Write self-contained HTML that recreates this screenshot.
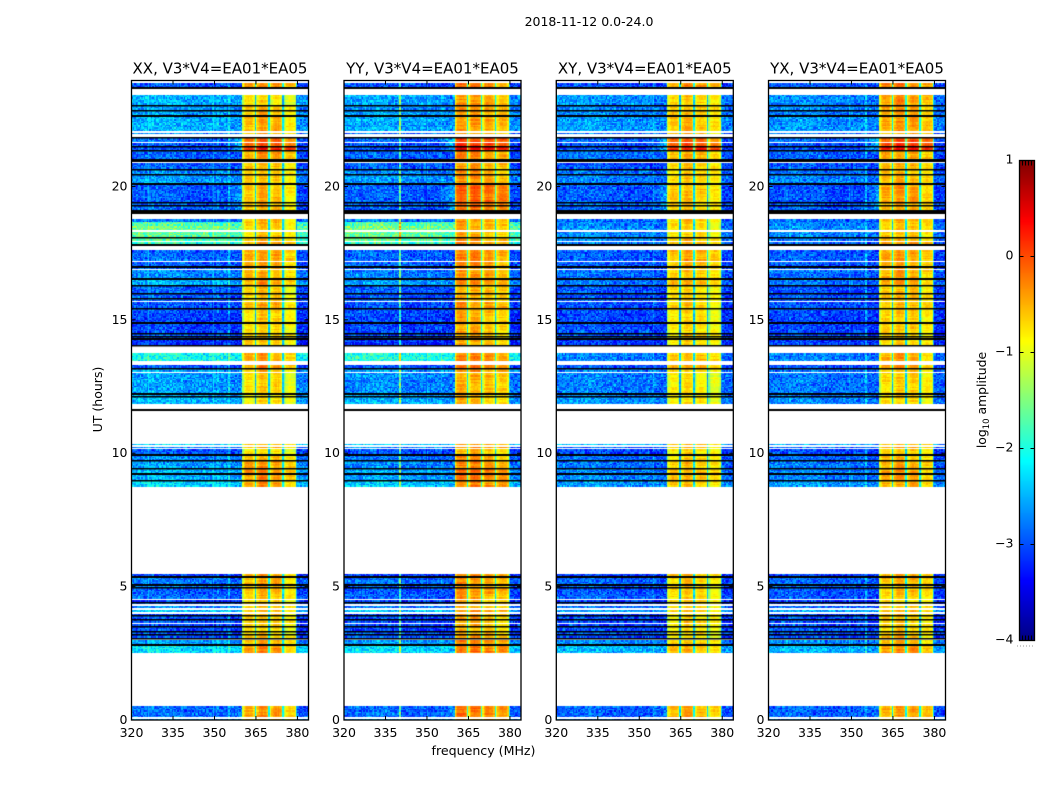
<!DOCTYPE html>
<html>
<head>
<meta charset="utf-8">
<title>2018-11-12 0.0-24.0</title>
<style>
html,body{margin:0;padding:0;background:#fff;}
#figure{position:relative;width:1050px;height:800px;overflow:hidden;background:#fff;font-family:"DejaVu Sans","Liberation Sans",sans-serif;}
canvas{position:absolute;display:block;}
#overlay{position:absolute;left:0;top:0;}
text{font-family:"DejaVu Sans","Liberation Sans",sans-serif;fill:#000;}
</style>
</head>
<body>
<div id="figure">
<canvas id="panel-0"></canvas>
<canvas id="panel-1"></canvas>
<canvas id="panel-2"></canvas>
<canvas id="panel-3"></canvas>
<canvas id="colorbar"></canvas>
<svg id="overlay" width="1050" height="800" xmlns="http://www.w3.org/2000/svg">
<text x="589" y="26" text-anchor="middle" font-size="12.5">2018-11-12 0.0-24.0</text>
<text x="483.5" y="755" text-anchor="middle" font-size="12.6">frequency (MHz)</text>
<text transform="translate(102,399.5) rotate(-90)" text-anchor="middle" font-size="12.5">UT (hours)</text>
<text transform="translate(986,400) rotate(-90)" text-anchor="middle" font-size="12.4">log<tspan font-size="8.5" dy="3">10</tspan><tspan dy="-3"> amplitude</tspan></text>
</svg>
</div>
<script>
// Category labels
const panelNames = ["XX, V3*V4=EA01*EA05","YY, V3*V4=EA01*EA05","XY, V3*V4=EA01*EA05","YX, V3*V4=EA01*EA05"];
const freqTicks = [320,335,350,365,380];
const utTicks = [0,5,10,15,20];
const colorTicks = [1,0,-1,-2,-3,-4];

// Time rows: upper edge in UT hours, and flag state (d = data, w = blank, k = black flagged)
const rowTopUT = [23.93,23.86,23.71,23.67,23.44,23.07,23.03,22.88,22.84,22.66,22.62,22.06,22.02,21.95,21.87,21.80,21.65,21.61,21.50,21.46,21.38,21.33,21.01,20.93,20.86,20.67,20.60,20.45,20.41,20.11,20.07,19.40,19.36,19.29,19.25,19.10,18.98,18.76,18.68,18.53,18.50,18.35,18.31,18.12,18.08,17.97,17.93,17.86,17.78,17.60,17.22,17.15,17.00,16.96,16.89,16.85,16.55,16.51,16.29,16.25,16.02,15.99,15.82,15.78,15.69,15.65,15.46,15.42,14.90,14.86,14.52,14.49,14.41,14.37,14.30,14.26,14.07,14.00,13.74,13.44,13.32,13.21,13.16,13.06,13.02,12.24,12.20,12.16,12.13,11.83,11.71,11.68,11.64,11.60,10.33,10.29,10.25,10.18,10.14,9.97,9.91,9.73,9.69,9.46,9.43,9.24,9.20,8.98,8.94,8.75,8.71,8.68,5.49,5.38,5.34,5.08,5.04,4.97,4.93,4.74,4.55,4.52,4.44,4.40,4.33,4.29,4.18,4.14,4.03,3.99,3.92,3.88,3.80,3.77,3.65,3.62,3.54,3.50,3.35,3.32,3.24,3.20,3.09,3.05,3.02,2.98,2.90,2.83,2.79,2.50,0.51,0.10,0.04];
const rowState = ["w","d","k","w","d","k","d","k","d","k","d","w","d","w","k","d","w","d","k","d","k","d","k","w","d","k","d","k","d","k","d","k","d","k","d","k","w","d","d","d","d","w","d","k","d","w","d","k","w","d","w","d","k","d","w","d","k","d","k","d","k","d","k","d","w","d","k","d","k","d","k","d","k","d","k","d","k","w","d","w","d","k","d","w","d","k","d","k","d","w","d","w","k","w","d","w","d","w","d","k","d","k","d","k","d","k","d","k","d","w","d","w","d","k","d","k","d","k","d","d","w","d","k","d","w","d","w","d","w","d","k","d","k","d","w","d","k","d","k","d","k","d","k","d","w","d","d","k","d","w","d","w","d"];

// log10 amplitude of the 320-360 MHz band, one value per data row
const lowXX = [-3.0,-2.5,-2.6,-2.6,-2.5,-2.8,-2.9,-3.0,-3.0,-2.9,-2.9,-2.7,-2.6,-2.95,-2.9,
-2.9,-2.8,-1.75,-2.5,-1.6,-1.65,-1.7,-1.9,-2.9,-2.9,-2.9,-2.7,-2.5,-2.9,-2.95,
-2.9,-3.0,-3.05,-3.05,-3.0,-2.9,-3.15,-2.05,-3.0,-2.6,-2.6,-2.5,-2.45,-2.4,-2.3,
-2.7,-3.0,-2.7,-2.6,-2.45,-2.5,-2.3,-2.2,-3.1,-2.8,-2.8,-3.0,-2.85,-3.1,-2.9,
-2.7,-2.4,-3.1,-3.0,-3.0,-3.05,-3.0,-2.95,-3.0,-2.8,-2.6,-2.6,-2.25,-2.85,-2.6];
const lowYY = [-3.0,-2.55,-2.65,-2.6,-2.55,-2.8,-2.9,-3.0,-3.0,-2.9,-2.9,-2.7,-2.6,-2.95,-2.9,
-2.9,-2.8,-1.7,-2.5,-1.55,-1.6,-1.65,-1.85,-2.9,-2.9,-2.9,-2.75,-2.6,-2.95,-2.95,
-2.95,-3.0,-3.05,-3.05,-3.0,-2.95,-3.15,-2.0,-3.0,-2.65,-2.7,-2.6,-2.5,-2.4,-2.35,
-2.75,-3.0,-2.8,-2.7,-2.55,-2.6,-2.4,-2.25,-3.1,-2.85,-2.85,-3.0,-2.9,-3.1,-2.95,
-2.75,-2.4,-3.1,-3.0,-3.0,-3.05,-3.0,-2.95,-3.0,-2.85,-2.6,-2.6,-2.3,-2.85,-2.6];
const lowXY = [-3.0,-2.65,-2.7,-2.7,-2.6,-2.85,-2.9,-3.0,-3.0,-2.85,-2.95,-2.8,-2.75,-2.95,-2.9,
-2.9,-2.85,-2.7,-2.8,-2.65,-2.7,-2.7,-2.8,-2.95,-2.95,-2.95,-2.85,-2.8,-2.95,-3.0,
-2.95,-3.0,-3.05,-3.0,-3.0,-2.85,-3.1,-2.75,-3.0,-2.75,-2.75,-2.7,-2.65,-2.5,-2.5,
-2.85,-3.05,-2.85,-2.8,-2.7,-2.7,-2.6,-2.45,-3.1,-2.9,-2.9,-3.0,-2.9,-3.1,-3.0,
-2.85,-2.55,-3.1,-3.0,-3.0,-3.05,-3.0,-3.0,-3.0,-2.85,-2.7,-2.7,-2.45,-2.9,-2.7];
const lowYX = [-3.0,-2.7,-2.7,-2.75,-2.65,-2.85,-2.9,-3.0,-3.0,-2.9,-2.95,-2.85,-2.75,-3.0,-2.95,
-2.95,-2.85,-2.75,-2.8,-2.7,-2.7,-2.75,-2.85,-2.95,-2.95,-2.95,-2.85,-2.8,-3.0,-3.0,
-3.0,-3.0,-3.05,-3.05,-3.0,-2.9,-3.1,-2.75,-3.0,-2.8,-2.8,-2.75,-2.7,-2.55,-2.55,
-2.9,-3.05,-2.9,-2.8,-2.7,-2.75,-2.6,-2.45,-3.1,-2.9,-2.9,-3.0,-2.95,-3.1,-3.0,
-2.85,-2.55,-3.1,-3.0,-3.0,-3.05,-3.0,-3.0,-3.0,-2.9,-2.7,-2.7,-2.5,-2.9,-2.7];

// log10 amplitude of the 360-380 MHz band, one value per data row
const highXX = [-.3,-.7,-.5,-.5,-.45,-.5,-.1,0,.35,-.35,-.5,-.55,-.55,-.5,-.5,
-.5,-.5,-.55,-.7,-.6,-.6,-.5,-.4,-.35,-.4,-.4,-.45,-.35,-.6,-.55,
-.6,-.45,-.6,-.6,-.55,-.55,-.55,-.4,-.3,-.5,-.65,-.7,-.7,-.5,-.5,
-.4,-.7,-.5,-.35,-.25,-.3,-.35,-.5,-.4,-.45,-.5,-.5,-.5,-.6,-.6,
-.55,-.45,-.5,-.55,-.55,-.6,-.65,-.6,-.55,-.5,-.45,-.5,-.3,-.35,-.5];
const highYY = [-.25,-.4,-.4,-.4,-.4,-.4,0,.1,.45,-.3,-.4,-.4,-.35,-.1,-.15,
-.2,-.35,-.45,-.6,-.5,-.5,-.4,-.3,-.3,-.35,-.35,-.4,-.3,-.5,-.5,
-.5,-.35,-.5,-.5,-.5,-.45,-.5,-.3,-.2,-.35,-.5,-.55,-.55,-.4,-.4,
-.3,-.55,-.4,-.3,-.2,-.2,-.3,-.4,-.35,-.35,-.4,-.35,-.45,-.55,-.5,
-.5,-.35,-.45,-.45,-.5,-.5,-.55,-.5,-.45,-.4,-.3,-.4,-.2,-.2,-.4];
const highXY = [-.3,-.6,-.55,-.55,-.5,-.55,-.1,0,.3,-.5,-.55,-.6,-.6,-.55,-.6,
-.6,-.55,-.65,-.75,-.7,-.65,-.55,-.5,-.45,-.5,-.5,-.55,-.45,-.65,-.65,
-.7,-.6,-.7,-.7,-.65,-.65,-.7,-.5,-.45,-.65,-.75,-.75,-.75,-.6,-.6,
-.5,-.7,-.65,-.55,-.45,-.5,-.55,-.6,-.5,-.6,-.65,-.65,-.65,-.7,-.7,
-.7,-.55,-.65,-.7,-.65,-.7,-.75,-.7,-.7,-.6,-.6,-.6,-.5,-.45,-.6];
const highYX = [-.3,-.4,-.45,-.45,-.45,-.5,-.05,.05,.3,-.45,-.55,-.6,-.55,-.45,-.55,
-.55,-.5,-.6,-.7,-.65,-.6,-.5,-.45,-.45,-.5,-.5,-.5,-.45,-.65,-.6,
-.65,-.55,-.65,-.65,-.65,-.65,-.7,-.5,-.4,-.6,-.7,-.7,-.7,-.55,-.55,
-.45,-.7,-.6,-.5,-.45,-.45,-.5,-.6,-.5,-.55,-.6,-.6,-.65,-.7,-.7,
-.65,-.55,-.6,-.65,-.65,-.7,-.7,-.65,-.6,-.6,-.55,-.6,-.4,-.45,-.55];

// Relative gain of each 5 MHz sub-band, per polarisation
const subbandXX = [-.15,0,-.1,-.35];
const subbandYY = [0,0,-.1,-.2];
const subbandXY = [-.15,0,-.1,-.25];
const subbandYX = [-.05,.05,0,-.2];
// Shape across one sub-band (0.5 MHz channels), last channel is the band gap
const subbandShape = [-.5,-.15,0,.05,.1,.05,.05,0,-.2,-1.7];
// Low-band bandpass in 4 MHz steps from 320 to 384 MHz
const lowShape = [0,.05,.05,.05,0,-.05,-.05,-.05,-.05,-.1,-.1,-.05,0,.05,.1,-.15];
// Narrow interference lines
const spikeFreqXX = [355,351];
const spikeGainXX = [.45,.15];
const spikeFreqYY = [340,355,350];
const spikeGainYY = [1.2,.25,.25];
const spikeFreqXY = [355,353,344];
const spikeGainXY = [.35,.15,.15];
const spikeFreqYX = [355,349,340];
const spikeGainYX = [.5,.25,.15];
// Time ranges where the top of the low band brightens
const shoulderFromUT = [21.87,20.07,0.51];
const shoulderToUT = [21.3,19.1,0.0];
const shoulderGain = [.7,.5,.25];
// Estimated grain sample, repeated over the cells as visual texture
const grainA = [.6,-.8,.2,-.3,.9,-.6,.1,.7,-.9,.4,-.2,-.7,.8,.3,-.5,.5,-.1,-.9,.6,.2,-.4,1,-.7,.1,-.3,.7,-.6,.4,-1,.3,.8,-.2,-.5,.5,.9,-.8,.1,-.4,.6,-.6,.2,.4,-.9,.7,-.1,.3,-.5];
const grainB = [.3,-.5,.8,-.2,-.7,.4,.1,-.9,.6,.2,-.4,.9,-.6,-.1,.5,-.8,.3,.7,-.3,-.6,.9,.1,-.5,.4,-.9,.6,-.2,.2,.7,-.7,0];

const lowSets = [lowXX,lowYY,lowXY,lowYX];
const highSets = [highXX,highYY,highXY,highYX];
const subbandSets = [subbandXX,subbandYY,subbandXY,subbandYX];
const spikeFreqSets = [spikeFreqXX,spikeFreqYY,spikeFreqXY,spikeFreqYX];
const spikeGainSets = [spikeGainXX,spikeGainYY,spikeGainXY,spikeGainYX];

const panelLeft = [131.5,344,556.3,768.5];
const panelWidth = 177;
const plotTop = 80.5;
const plotBottom = 720;
const cbarLeft = 1019.5, cbarRight = 1034.5, cbarTop = 160.5, cbarBottom = 640.5;
const freqMin = 320, freqMax = 384, utMin = 0, utMax = 23.97;
const vMin = -4, vMax = 1;
const chanWidth = 0.5, rowStep = 0.05;

function xScale(p,f){return panelLeft[p]+(f-freqMin)/(freqMax-freqMin)*panelWidth;}
function yScale(u){return plotBottom-(u-utMin)/(utMax-utMin)*(plotBottom-plotTop);}
function clip(v){return Math.max(0,Math.min(1,v));}
function jet(v){
  const t=clip((v-vMin)/(vMax-vMin));
  const r=clip(1.5-Math.abs(4*t-3)),g=clip(1.5-Math.abs(4*t-2)),b=clip(1.5-Math.abs(4*t-1));
  return "rgb("+Math.round(r*255)+","+Math.round(g*255)+","+Math.round(b*255)+")";
}
function cellValue(p,f,ut,low,high,c,r){
  const g=grainA[(c*c*7+r*11+c*r*3+p*5)%grainA.length]+.5*grainB[(c*c*3+r*r*5+c*2)%grainB.length];
  if(f>=360.2&&f<380){
    const band=Math.floor((f-360)/5);
    const ch=Math.min(9,Math.floor(((f-360)%5)/chanWidth));
    const rowWave=grainA[(r*3+band*17+p*7)%grainA.length];
    return high+subbandSets[p][band]+subbandShape[ch]+.09*g+.14*rowWave;
  }
  let v=low+lowShape[Math.floor((f-freqMin)/4)];
  if(f>=355&&f<360.5){
    for(let i=0;i<shoulderGain.length;i++){
      if(ut<=shoulderFromUT[i]&&ut>=shoulderToUT[i])v+=shoulderGain[i]*(f-355)/5;
    }
  }
  const sf=spikeFreqSets[p],sg=spikeGainSets[p];
  for(let i=0;i<sf.length;i++){if(Math.abs(f-sf[i])<chanWidth/2)v+=sg[i];}
  return v+.38*g;
}
function drawPanel(p){
  const cv=document.getElementById("panel-"+p);
  const left=Math.round(panelLeft[p]),w=panelWidth,top=Math.round(plotTop),h=Math.round(plotBottom-plotTop);
  cv.width=w;cv.height=h;
  cv.style.left=left+"px";cv.style.top=top+"px";
  const ctx=cv.getContext("2d");
  ctx.fillStyle="#fff";ctx.fillRect(0,0,w,h);
  let dataIndex=0,rowCounter=0;
  const nChan=Math.round((freqMax-freqMin)/chanWidth);
  for(let i=0;i<rowTopUT.length;i++){
    if(rowState[i]!=="d")continue;
    const utTop=rowTopUT[i],utBot=i+1<rowTopUT.length?rowTopUT[i+1]:utMin;
    const low=lowSets[p][dataIndex],high=highSets[p][dataIndex];
    dataIndex++;
    const n=Math.max(1,Math.round((utTop-utBot)/rowStep));
    for(let r=0;r<n;r++){
      const uA=utTop-(utTop-utBot)*r/n,uB=utTop-(utTop-utBot)*(r+1)/n;
      const ya=Math.round(yScale(uA))-top,yb=Math.max(ya+1,Math.round(yScale(uB))-top);
      for(let c=0;c<nChan;c++){
        const f=freqMin+c*chanWidth;
        const xa=Math.round(xScale(p,f))-left,xb=Math.max(xa+1,Math.round(xScale(p,f+chanWidth))-left);
        ctx.fillStyle=jet(cellValue(p,f+chanWidth/2-.001,uA,low,high,c,rowCounter));
        ctx.fillRect(xa,ya,xb-xa,yb-ya);
      }
      rowCounter++;
    }
  }
  // flagged rows are drawn last so they stay crisp over neighbouring data
  for(let i=0;i<rowTopUT.length;i++){
    if(rowState[i]==="d")continue;
    const utTop=rowTopUT[i],utBot=i+1<rowTopUT.length?rowTopUT[i+1]:utMin;
    const y0=Math.round(yScale(utTop))-top,y1=Math.round(yScale(utBot))-top;
    if(rowState[i]==="w"){ctx.fillStyle="#fff";ctx.fillRect(0,y0,w,Math.max(1,y1-y0));}
  }
  for(let i=0;i<rowTopUT.length;i++){
    if(rowState[i]!=="k")continue;
    const utTop=rowTopUT[i],utBot=i+1<rowTopUT.length?rowTopUT[i+1]:utMin;
    const y0=Math.round(yScale(utTop))-top,y1=Math.round(yScale(utBot))-top;
    ctx.fillStyle="#000";
    ctx.fillRect(0,y0,w,Math.max(1.5,y1-y0));
  }
}
function cbarY(v){return cbarTop+(vMax-v)/(vMax-vMin)*(cbarBottom-cbarTop);}
function drawColorbar(){
  const cv=document.getElementById("colorbar");
  const l=Math.round(cbarLeft),t=Math.round(cbarTop),w=Math.round(cbarRight-cbarLeft),h=Math.round(cbarBottom-cbarTop);
  cv.width=w;cv.height=h;cv.style.left=l+"px";cv.style.top=t+"px";
  const ctx=cv.getContext("2d");
  for(let y=0;y<h;y++){
    ctx.fillStyle=jet(vMax-(y+.5)/h*(vMax-vMin));
    ctx.fillRect(0,y,w,1);
  }
}
const svg=document.getElementById("overlay");
const NS="http://www.w3.org/2000/svg";
function addLine(x1,y1,x2,y2,sw){
  const el=document.createElementNS(NS,"line");
  el.setAttribute("x1",x1);el.setAttribute("y1",y1);el.setAttribute("x2",x2);el.setAttribute("y2",y2);
  el.setAttribute("stroke","#000");el.setAttribute("stroke-width",sw||1);
  svg.appendChild(el);
  return el;
}
function addText(x,y,s,anchor,size){
  const el=document.createElementNS(NS,"text");
  el.setAttribute("x",x);el.setAttribute("y",y);el.setAttribute("text-anchor",anchor);el.setAttribute("font-size",size);
  el.textContent=s;
  svg.appendChild(el);
  return el;
}
function drawAxes(p){
  const L=panelLeft[p],R=L+panelWidth;
  const frame=document.createElementNS(NS,"rect");
  frame.setAttribute("x",L);frame.setAttribute("y",plotTop);frame.setAttribute("width",panelWidth);frame.setAttribute("height",plotBottom-plotTop);
  frame.setAttribute("fill","none");frame.setAttribute("stroke","#000");frame.setAttribute("stroke-width","1.3");
  
  
  svg.appendChild(frame);
  freqTicks.forEach(function(f){
    const x=xScale(p,f);
    const a=addLine(x,plotBottom,x,plotBottom-4);
    
    
    const b=addLine(x,plotTop,x,plotTop+4);
    
    
    const t=addText(x,737,String(f),"middle",12.5);
    
    
  });
  utTicks.forEach(function(u){
    const y=yScale(u);
    const a=addLine(L,y,L+4,y);
    
    
    const b=addLine(R,y,R-4,y);
    
    
    const t=addText(L-4,y+4,String(u),"end",12.5);
    
    
  });
  const title=addText(L+panelWidth/2,73.5,panelNames[p],"middle",15);
  
  
}
function drawColorbarAxes(){
  const frame=document.createElementNS(NS,"rect");
  frame.setAttribute("x",cbarLeft);frame.setAttribute("y",cbarTop);frame.setAttribute("width",cbarRight-cbarLeft);frame.setAttribute("height",cbarBottom-cbarTop);
  frame.setAttribute("fill","none");frame.setAttribute("stroke","#000");frame.setAttribute("stroke-width","1.3");
  
  
  svg.appendChild(frame);
  colorTicks.forEach(function(v){
    const y=cbarY(v);
    const label=addText(1013.5,y+3,(v<0?"\u2212":"")+Math.abs(v),"end",12.5);
    
    
    if(v>vMin&&v<vMax){
      const a=addLine(cbarLeft,y,cbarLeft+4,y);
      
      
      const b=addLine(cbarRight,y,cbarRight-4,y);
      
      
    }
  });
  [.2,.4,.6,.8].forEach(function(fr){
    const x=cbarLeft+fr*(cbarRight-cbarLeft);
    const a=addLine(x,cbarTop,x,cbarTop+5);
    
    
    const b=addLine(x,cbarBottom,x,cbarBottom-5);
    
    
  });
  const dots=addLine(1017,646,1035,646);
  dots.setAttribute("stroke","#999");
  dots.setAttribute("stroke-dasharray","1 2");
  
  
}
for(let p=0;p<4;p++){drawPanel(p);drawAxes(p);}
drawColorbar();
drawColorbarAxes();
</script>
</body>
</html>
